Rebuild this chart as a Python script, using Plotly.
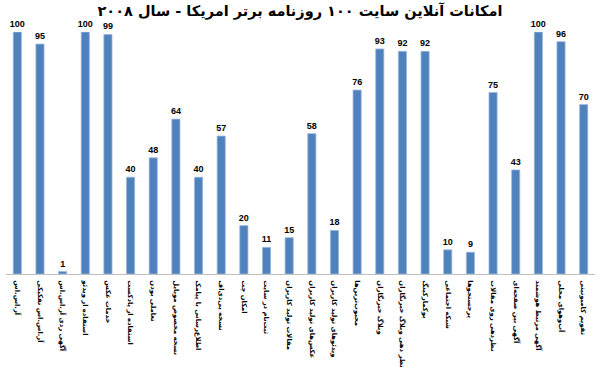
import plotly.graph_objects as go

categories = [
    "آر.اس.اس",
    "آر.اس.اس تفکیکی",
    "آگهی ردی آر.اس.اس",
    "استفاده از ویدئو",
    "خدمات عکس",
    "استفاده از پادکست",
    "تعاملی بودن",
    "نسخه مخصوص موبایل",
    "اطلاع‌رسانی با پیامک",
    "نسخه پی‌دی‌اف",
    "امکان چت",
    "ثبت‌نام در سایت",
    "مقالات تولید کاربران",
    "عکس‌های تولید کاربران",
    "ویدئوهای تولید کاربران",
    "محبوب‌ترین‌ها",
    "وبلاگ خبرنگاران",
    "نظر دهی وبلاگ خبرنگاران",
    "بوکمارکینگ",
    "شبکه اجتماعی",
    "پرجستجوها",
    "نظردهی روی مقالات",
    "آگهی بین صفحه‌ای",
    "آگهی مرتبط هوشمند",
    "آب‌وهوای محلی",
    "تقویم کامیونیتی",
]
values = [100, 95, 1, 100, 99, 40, 48, 64, 40, 57, 20, 11, 15, 58, 18, 76, 93, 92, 92, 10, 9, 75, 43, 100, 96, 70]
title = "امکانات آنلاین سایت ۱۰۰ روزنامه برتر امریکا - سال ۲۰۰۸"

fig = go.Figure(go.Bar(
    x=categories, y=values,
    marker=dict(color="#4F81BD", line=dict(color="#9DB9DE", width=0.8)),
    texttemplate="<b>%{y}</b>", textposition="outside", cliponaxis=False,
    constraintext="none",
    textfont=dict(family="Liberation Sans, Arial", size=9, color="#000000"),
))
fig.update_layout(
    width=600, height=367,
    margin=dict(l=6, r=5, t=32, b=93),
    paper_bgcolor="white", plot_bgcolor="white",
    bargap=0.64,
    showlegend=False,
    title=dict(text="<b>" + title + "</b>", x=0.5, xanchor="center", y=0.985, yanchor="top",
               font=dict(family="DejaVu Sans", size=14.5, color="#000000")),
)
fig.update_xaxes(
    tickangle=90, tickfont=dict(family="DejaVu Sans", size=6.8, color="#000000"),
    tickmode="array", tickvals=categories, ticktext=["<b>" + c + "</b>" for c in categories],
    ticklabelstandoff=4, automargin=False,
    showline=True, linecolor="#BFBFBF", linewidth=1, ticks="", showgrid=False,
)
fig.update_yaxes(range=[0, 100], visible=False, showgrid=False, automargin=False)
fig.write_html("out.html")
